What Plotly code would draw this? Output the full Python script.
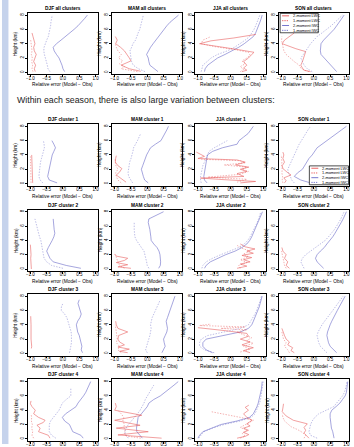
import plotly.graph_objects as go

W, HGT = 354, 447

PANEL_TITLES = ["DJF all clusters", "MAM all clusters", "JJA all clusters", "SON all clusters"] + [
    f"{s} cluster {c}" for c in range(1, 5) for s in ["DJF", "MAM", "JJA", "SON"]]

X_TICKS = [-1.0, -0.5, 0.0, 0.5, 1.0]
X_TICK_TEXT = ["\u22121.0", "\u22120.5", "0.0", "0.5", "1.0"]
Y_TICKS = [0, 2, 4, 6, 8]
LEGEND_LABELS = ["2-moment LWC", "1-moment LWC", "2-moment IWC", "1-moment IWC"]

# heights (km) for the ice profiles
H_ICE = [0.1, 0.5, 1, 1.5, 2, 2.5, 3, 3.5, 4, 4.5, 5, 5.5, 6, 6.5, 7, 7.5, 8]

ICE_SOLID = [
    [0.05, 0.0, -0.03, -0.08, -0.12, -0.2, -0.27, -0.3, -0.2, -0.06, 0.08, 0.2, 0.34, 0.46, 0.57, 0.66, 0.75],
    [0.33, 0.22, 0.08, 0.05, 0.03, -0.02, 0.03, 0.1, 0.18, 0.26, 0.34, 0.42, 0.5, 0.6, 0.7, 0.82, 0.96],
    [-0.8, -0.78, -0.7, -0.55, -0.4, -0.17, 0.05, 0.25, 0.42, 0.55, 0.7, 0.77, 0.82, 0.86, 0.9, 0.94, 0.97],
    [0.7, 0.62, 0.5, 0.4, 0.3, 0.22, 0.2, 0.2, 0.22, 0.3, 0.41, 0.52, 0.62, 0.7, 0.77, 0.85, 0.93],
    [-0.18, -0.42, -0.47, -0.45, -0.43, -0.41, -0.38, -0.35, -0.33, -0.28, -0.23, -0.28, -0.34, None, None, None, None],
    [0.03, -0.08, -0.12, -0.15, -0.18, -0.14, -0.1, -0.07, -0.02, 0.04, 0.1, 0.25, 0.42, 0.48, 0.55, 0.6, 0.65],
    [-0.72, -0.8, -0.82, -0.8, -0.78, -0.76, -0.74, -0.72, -0.71, -0.55, -0.25, 0.2, 0.26, 0.4, 0.54, 0.62, 0.7],
    [-0.1, -0.4, -0.6, -0.5, -0.35, -0.28, -0.22, -0.15, -0.05, 0.03, 0.1, 0.25, 0.41, 0.55, 0.72, 0.85, 1.0],
    [0.55, 0.1, -0.3, -0.4, -0.45, -0.5, -0.45, -0.38, -0.33, -0.28, -0.25, -0.27, -0.28, -0.3, -0.3, None, None],
    [0.35, 0.4, 0.41, 0.41, 0.39, 0.36, 0.3, 0.2, 0.12, 0.11, 0.1, 0.08, 0.055, 0.03, 0.05, 0.3, 0.5],
    [-0.8, -0.75, -0.62, -0.4, -0.15, 0.14, 0.35, 0.5, 0.59, 0.65, 0.7, 0.75, 0.8, 0.85, 0.9, 0.95, 0.98],
    [0.3, 0.2, 0.1, 0.05, 0.1, 0.2, 0.32, 0.4, 0.5, 0.58, 0.65, 0.72, 0.78, 0.84, 0.9, 0.95, 1.0],
    [0.6, 0.56, 0.58, 0.56, 0.52, 0.5, 0.45, 0.42, 0.41, 0.45, 0.52, 0.56, 0.52, 0.48, 0.46, 0.5, None],
    [0.45, 0.5, 0.55, 0.52, 0.5, 0.55, 0.6, 0.62, 0.6, 0.58, 0.62, 0.66, 0.7, 0.74, 0.78, 0.82, 0.85],
    [-0.55, -0.75, -0.85, -0.85, -0.75, -0.2, 0.3, 0.55, 0.65, 0.7, 0.75, 0.8, 0.85, 0.88, 0.91, 0.94, 0.97],
    [0.7, 0.6, 0.5, 0.45, 0.42, 0.4, 0.42, 0.45, 0.5, 0.55, 0.6, 0.66, 0.72, 0.78, 0.84, 0.9, 0.96],
    [0.62, 0.55, 0.3, 0.24, 0.2, 0.05, -0.02, 0.08, 0.25, 0.4, 0.46, 0.55, 0.63, 0.7, 0.75, 0.8, 0.85],
    [-0.15, -0.22, -0.32, -0.33, -0.32, -0.3, -0.28, -0.18, -0.08, 0.0, 0.05, 0.2, 0.4, 0.55, 0.68, 0.82, 0.95],
    [-1.0, -0.95, -0.85, -0.6, -0.3, 0.2, 0.58, 0.7, 0.76, 0.81, 0.85, 0.88, 0.91, 0.93, 0.95, 0.96, 0.97],
    [0.62, 0.61, 0.58, 0.54, 0.52, 0.51, 0.5, 0.5, 0.55, 0.68, 0.8, 0.88, 0.96, 1.0, 1.02, 1.03, 1.04],
]

ICE_DASHED = [
    [-0.4, -0.46, -0.48, -0.5, -0.54, -0.57, -0.59, -0.58, -0.55, -0.5, -0.45, -0.42, -0.4, -0.38, -0.37, -0.35, -0.33],
    [-0.07, -0.27, -0.43, -0.48, -0.5, -0.52, -0.53, -0.48, -0.44, -0.36, -0.33, -0.28, -0.23, -0.2, -0.17, -0.14, -0.12],
    [-0.9, -0.88, -0.85, -0.72, -0.6, -0.4, -0.1, 0.12, 0.3, 0.45, 0.58, 0.66, 0.72, 0.77, 0.82, 0.86, 0.9],
    [-0.05, -0.2, -0.3, -0.35, -0.4, -0.32, -0.25, -0.18, -0.1, 0.0, 0.1, 0.25, 0.4, 0.53, 0.65, 0.77, 0.88],
    [-0.62, -0.7, -0.74, -0.73, -0.71, -0.7, -0.69, -0.66, -0.63, -0.6, -0.57, -0.58, -0.6, None, None, None, None],
    [-0.45, -0.5, -0.57, -0.59, -0.58, -0.56, -0.54, -0.5, -0.46, -0.44, -0.42, -0.35, -0.3, -0.25, -0.2, None, None],
    [-0.9, -0.92, -0.92, -0.9, -0.88, -0.85, -0.8, -0.75, -0.7, -0.66, -0.5, -0.3, -0.1, None, None, None, None],
    [-0.6, -0.68, -0.72, -0.78, -0.8, -0.75, -0.7, -0.66, -0.6, -0.55, -0.5, -0.45, -0.38, -0.32, -0.25, -0.18, -0.1],
    [0.0, -0.35, -0.5, -0.58, -0.6, -0.62, -0.63, -0.65, -0.68, -0.72, -0.75, -0.78, -0.82, -0.85, -0.86, None, None],
    [0.05, 0.0, -0.02, -0.05, -0.08, -0.1, -0.18, -0.26, -0.33, -0.38, -0.4, -0.4, -0.4, -0.4, None, None, None],
    [-0.88, -0.85, -0.75, -0.55, -0.3, 0.0, 0.25, 0.42, 0.53, 0.6, 0.66, 0.72, 0.77, 0.82, 0.86, 0.9, 0.93],
    [-0.3, -0.35, -0.4, -0.35, -0.25, -0.1, 0.05, 0.2, 0.35, 0.45, 0.55, 0.63, 0.7, 0.77, 0.83, 0.88, 0.93],
    [0.2, 0.21, 0.24, 0.26, 0.27, 0.26, 0.25, 0.22, 0.18, 0.16, 0.12, 0.05, -0.05, -0.05, 0.0, None, None],
    [0.0, -0.05, -0.02, 0.02, 0.05, 0.08, 0.1, 0.12, 0.1, 0.12, 0.15, 0.2, 0.25, 0.3, 0.35, 0.4, None],
    [-0.5, -0.8, -0.95, -0.95, -0.9, -0.7, -0.2, 0.3, 0.55, 0.62, 0.68, 0.75, 0.8, 0.85, 0.88, 0.92, 0.95],
    [0.4, 0.3, 0.2, 0.15, 0.12, 0.1, 0.13, 0.18, 0.25, 0.33, 0.42, 0.5, 0.58, 0.66, 0.74, 0.82, 0.9],
    [-0.22, -0.35, -0.42, -0.43, -0.42, -0.38, -0.3, -0.2, -0.12, -0.07, -0.02, 0.1, 0.24, 0.24, 0.24, None, None],
    [-0.58, -0.65, -0.69, -0.65, -0.58, -0.48, -0.4, -0.3, -0.22, -0.15, -0.1, -0.06, 0.0, 0.07, 0.13, 0.2, None],
    [-0.98, -0.92, -0.82, -0.55, -0.2, 0.3, 0.63, 0.75, 0.8, 0.85, 0.89, 0.92, 0.94, 0.96, 0.98, 0.99, 1.0],
    [0.1, -0.1, -0.15, -0.13, -0.1, -0.05, 0.03, 0.15, 0.4, 0.61, 0.7, 0.8, 0.88, 0.94, 0.98, 1.0, 1.01],
]

LIQ_SOLID_H = [
    [0.1, 0.5, 1, 1.5, 2, 2.5, 3, 3.5, 4, 4.5, 5, 5.5],
    [0.15, 0.3, 0.5, 0.8, 1, 1.3, 1.6, 2, 2.5, 3, 3.5, 4, 4.5, 5],
    [0.1, 0.3, 0.6, 1, 1.5, 2, 2.5, 2.8, 3.2, 3.6, 4.0, 4.4, 4.8, 5.3],
    [0.1, 0.3, 0.6, 1, 1.5, 2, 2.5, 2.9, 3.3, 3.7, 4.0, 4.5, 5, 5.5],
    [0.1, 1, 2, 3, 4],
    [0.2, 0.5, 0.8, 1.2, 1.6, 2.1, 2.5, 3.0, 3.5, 3.9],
    [0.1, 0.3, 0.55, 0.77, 1.0, 1.4, 1.7, 2.0, 2.3, 2.6, 3.0, 3.3, 3.5, 3.8, 4.4],
    [0.1, 0.4, 0.8, 1.2, 1.6, 2.1, 2.5, 3, 3.5, 4, 4.4],
    [0.0, 0.5, 1, 1.5, 2, 2.5, 3, 3.4],
    [0.1, 0.3, 0.6, 0.9, 1.2, 1.5, 1.8, 2.1],
    [0.1, 0.4, 0.7, 1.0, 1.3, 1.6, 1.9, 2.2, 2.5, 2.8, 3.1, 3.5],
    [0.1, 0.5, 1, 1.5, 2, 2.5, 3],
    [0.7, 1, 2, 3, 4, 5.2],
    [0.1, 0.3, 0.6, 0.9, 1.2, 1.6, 2, 2.5, 3, 3.5, 4, 4.5],
    [0.1, 0.4, 0.8, 1.2, 1.6, 2.0, 2.4, 2.8, 3.2, 3.6],
    [0.1, 0.4, 0.8, 1.2, 1.6, 2, 2.5, 3, 3.5],
    [0.1, 0.5, 1, 1.5, 1.9, 2.3, 2.6, 3, 3.5, 4, 4.5, 4.9, 5.3],
    [0.1, 0.55, 1.0, 1.5, 1.9, 2.6, 3.3, 4.0, 4.5, 5.0],
    [0.1, 0.35, 0.6, 0.9, 1.2, 1.5, 1.8, 2.1, 2.6, 3.0, 3.5, 4.0, 4.4, 4.7],
    [0.1, 0.5, 0.8, 1.2, 1.6, 2.1, 2.6, 3.2, 3.8, 4.3, 4.9],
]
LIQ_SOLID_X = [
    [-0.85, -0.88, -0.84, -0.9, -0.86, -0.82, -0.88, -0.9, -0.86, -0.9, -0.92, -0.95],
    [-0.2, -0.4, -0.55, -0.7, -0.8, -0.65, -0.5, -0.55, -0.62, -0.7, -0.82, -0.97, -0.92, -0.98],
    [0.35, 0.5, 0.4, 0.5, 0.4, 0.55, 0.65, 0.72, 0.2, -0.4, -0.95, -0.6, 0.1, 0.78],
    [-0.1, -0.3, -0.35, -0.4, -0.35, -0.32, -0.28, -0.25, -0.55, -0.8, -0.97, -0.9, -0.75, -0.6],
    [-0.93, -0.94, -0.95, -0.95, -0.96],
    [-0.65, -0.75, -0.85, -0.95, -0.85, -0.78, -0.9, -0.98, -0.97, -0.95],
    [0.3, 0.77, -0.2, -0.92, 0.41, 0.2, 0.5, 0.3, 0.56, 0.15, 0.45, 0.2, -1.0, -0.8, -1.05],
    [-0.9, -0.85, -0.92, -0.7, -0.82, -0.95, -0.97, -0.9, -0.95, -0.92, -0.95],
    [-0.97, -0.98, -0.98, -0.99, -0.98, -0.99, -1.0, -1.0],
    [-0.5, -0.9, -0.6, -0.95, -0.7, -0.6, -0.95, -1.0],
    [0.2, 0.5, 0.3, 0.6, 0.4, 0.65, 0.35, 0.7, 0.5, 0.75, 0.45, 0.3],
    [-0.75, -0.85, -0.8, -0.9, -0.85, -0.95, -0.98],
    [-0.97, -0.96, -0.98, -0.97, -0.98, -0.99],
    [-0.6, -0.85, -0.55, -0.9, -0.7, -0.85, -0.9, -0.88, -0.6, -0.9, -0.95, -0.97],
    [0.6, 0.4, 0.7, 0.35, 0.6, 0.3, 0.55, 0.5, -0.2, -1.0],
    [-0.6, -0.7, -0.65, -0.8, -0.75, -0.85, -0.9, -0.95, -0.98],
    [-0.4, -0.45, -0.75, -0.7, -0.8, -0.6, -0.55, -0.75, -0.9, -0.85, -0.95, -1.0, -0.98],
    [0.44, -0.9, 0.03, -0.95, -0.22, -1.0, -0.17, -1.0, -0.95, -0.98],
    [0.2, 0.45, 0.56, 0.4, 0.55, 0.4, 0.6, 0.5, 0.66, 0.5, 0.4, 0.55, 0.45, 0.56],
    [-0.15, -0.25, -0.3, -0.25, -0.3, -0.2, -0.63, -0.85, -0.97, -0.95, -0.93],
]

LIQ_DASHED_H = [
    [0.1, 0.5, 1, 1.5, 2, 2.5, 3, 3.5, 4, 4.5],
    [0.1, 0.3, 0.5, 0.8, 1.2, 1.6, 2, 2.5, 3, 3.5, 4],
    [0.1, 0.4, 0.8, 1.2, 1.6, 2, 2.4, 2.8, 3.2, 3.6, 4.0, 4.5, 5.0],
    [0.1, 0.3, 0.6, 1, 1.5, 2, 2.5, 3, 3.5, 4, 4.5, 5],
    [0.1, 1, 2, 3, 3.8],
    [0.1, 0.5, 1, 1.5, 2, 2.5, 3, 3.5],
    [0.2, 0.6, 0.9, 1.3, 1.7, 2.0, 2.3, 2.6, 2.9, 3.2, 3.4],
    [0.1, 0.5, 1, 1.5, 2, 2.5, 3, 3.5, 4],
    [],
    [0.1, 0.5, 1, 1.5, 2],
    [0.1, 0.5, 0.9, 1.3, 1.7, 2.1, 2.5, 2.9, 3.3],
    [0.1, 0.5, 1, 1.5, 2, 2.5],
    [],
    [0.1, 0.5, 1, 1.5, 2, 3, 4],
    [0.2, 0.6, 1, 1.4, 1.8, 2.2, 2.6, 3.0, 3.3, 3.5, 3.7, 3.9, 4.1],
    [0.1, 0.5, 1, 1.5, 2, 2.5, 3],
    [0.1, 0.5, 1, 1.5, 2, 2.5, 3, 3.5],
    [0.1, 0.4, 0.8, 1.2, 1.6, 2, 2.5, 3, 3.5, 4],
    [0.1, 0.4, 0.8, 1.2, 1.6, 2.0, 2.3, 2.6, 3.0, 3.4, 3.8],
    [0.1, 0.5, 0.9, 1.3, 1.7, 2.1, 2.5, 3.0, 3.5],
]
LIQ_DASHED_X = [
    [-0.92, -0.95, -0.93, -0.96, -0.94, -0.97, -0.95, -0.97, -0.98, -0.99],
    [-0.3, -0.6, -0.8, -0.7, -0.85, -0.75, -0.88, -0.8, -0.9, -0.95, -0.98],
    [0.3, 0.4, 0.3, 0.45, 0.35, 0.5, 0.6, 0.55, 0.1, -0.5, -0.9, -0.85, -0.6],
    [-0.15, -0.3, -0.4, -0.45, -0.6, -0.72, -0.85, -0.92, -0.95, -0.97, -0.99, -0.98],
    [-0.98, -0.99, -0.99, -1.0, -1.0],
    [-0.8, -0.9, -0.95, -0.97, -0.9, -0.96, -0.98, -0.99],
    [0.2, 0.5, -0.7, 0.3, 0.55, 0.35, 0.5, -0.2, 0.45, 0.3, -0.9],
    [-0.95, -0.97, -0.96, -0.98, -0.97, -0.99, -0.98, -1.0, -1.0],
    [],
    [-0.7, -0.85, -0.9, -0.95, -0.98],
    [0.3, 0.25, 0.5, 0.3, 0.55, 0.4, 0.6, 0.35, 0.2],
    [-0.85, -0.9, -0.92, -0.95, -0.97, -0.99],
    [],
    [-0.8, -0.9, -0.85, -0.95, -0.92, -0.96, -0.98],
    [0.3, 0.6, 0.4, 0.7, 0.5, 0.65, 0.4, 0.2, 0.5, -0.3, 0.45, -0.95, -0.6],
    [-0.75, -0.8, -0.9, -0.85, -0.93, -0.96, -0.98],
    [-0.9, -0.95, -0.93, -0.96, -0.94, -0.97, -0.96, -0.98],
    [-0.2, -0.65, -0.7, -0.68, -0.72, -0.7, -0.75, -0.72, -0.8, -0.9],
    [0.3, 0.45, 0.35, 0.5, 0.3, 0.45, 0.55, 0.7, 0.3, -0.1, -0.6],
    [-0.3, -0.25, -0.35, -0.5, -0.7, -0.8, -0.9, -0.95, -0.97],
]

RED = "rgb(232,80,80)"
BLUE = "rgb(105,105,200)"
DASH = "1.4px,1.4px"
LW = 0.6
PANEL_LEFT = [26, 111, 195, 279]
PANEL_TOP = [13, 125, 211, 296, 382]
PW, PH = 71, 62
XR = [-1.08, 1.08]
YR = [-0.3, 8.3]
FONT = "Liberation Sans, Arial, sans-serif"


def px(x):
    return x / W


def py(y):
    return 1 - y / HGT


fig = go.Figure()
layout = dict(width=W, height=HGT, margin=dict(l=0, r=0, t=0, b=0),
              paper_bgcolor="white", plot_bgcolor="white", showlegend=False)
annotations = []
shapes = [dict(type="rect", xref="paper", yref="paper", x0=0, x1=px(6.5), y0=0, y1=1,
               fillcolor="#c6d3ec", line=dict(width=0), layer="below")]

for i, title in enumerate(PANEL_TITLES):
    row = 0 if i < 4 else 1 + (i - 4) // 4
    col = i % 4
    L, T = PANEL_LEFT[col], PANEL_TOP[row]
    n = "" if i == 0 else str(i + 1)
    xa, ya = "x" + n, "y" + n
    axstyle = dict(showline=True, mirror=True, linecolor="black", linewidth=0.8,
                   ticks="outside", ticklen=2, tickwidth=0.6, tickcolor="black",
                   showgrid=False, zeroline=False, fixedrange=True,
                   tickfont=dict(size=4.5, family=FONT, color="black"))
    layout["xaxis" + n] = dict(axstyle, domain=[px(L), px(L + PW)], range=XR, anchor=ya,
                               tickvals=X_TICKS, ticktext=X_TICK_TEXT, ticklabelstandoff=-3)
    layout["yaxis" + n] = dict(axstyle, domain=[py(T + PH), py(T)], range=YR, anchor=xa,
                               tickvals=Y_TICKS, tickangle=-90, ticklabelstandoff=-1)
    # profiles
    fig.add_trace(go.Scatter(x=ICE_SOLID[i], y=H_ICE, mode="lines", xaxis=xa, yaxis=ya,
                             line=dict(color=BLUE, width=LW), connectgaps=False))
    fig.add_trace(go.Scatter(x=ICE_DASHED[i], y=H_ICE, mode="lines", xaxis=xa, yaxis=ya,
                             line=dict(color=BLUE, width=LW, dash=DASH), opacity=0.75))
    fig.add_trace(go.Scatter(x=LIQ_SOLID_X[i], y=LIQ_SOLID_H[i], mode="lines", xaxis=xa, yaxis=ya,
                             line=dict(color=RED, width=LW), opacity=0.9))
    if LIQ_DASHED_X[i]:
        fig.add_trace(go.Scatter(x=LIQ_DASHED_X[i], y=LIQ_DASHED_H[i], mode="lines", xaxis=xa, yaxis=ya,
                                 line=dict(color=RED, width=LW, dash=DASH), opacity=0.75))
    # texts
    annotations.append(dict(text="<b>" + title + "</b>", x=px(L + PW / 2), y=py(T - 4.5), xref="paper",
                            yref="paper", showarrow=False, font=dict(size=4.8, family=FONT, color="black"),
                            xanchor="center", yanchor="middle"))
    if T + PH + 13 < HGT:
        annotations.append(dict(text="Relative error (Model \u2212 Obs)", x=px(L + PW / 2),
                                y=py(T + PH + 10.5), xref="paper", yref="paper", showarrow=False,
                                font=dict(size=4.8, family=FONT, color="black"),
                                xanchor="center", yanchor="middle"))
    annotations.append(dict(text="Height (km)", x=px(L - 12), y=py(T + PH / 2), xref="paper", yref="paper",
                            showarrow=False, textangle=-90, font=dict(size=4.8, family=FONT, color="black"),
                            xanchor="center", yanchor="middle"))


def add_legend(x0, y0, x1, y1):
    shapes.append(dict(type="rect", xref="paper", yref="paper", x0=px(x0), x1=px(x1), y0=py(y1), y1=py(y0),
                       line=dict(color="black", width=0.7), fillcolor="white"))
    step = (y1 - y0) / 4
    for k, lab in enumerate(LEGEND_LABELS):
        yy = y0 + step * (k + 0.5)
        col = RED if k < 2 else BLUE
        dash = "solid" if k % 2 == 0 else "1.3px,1px"
        shapes.append(dict(type="line", xref="paper", yref="paper", x0=px(x0 + 2), x1=px(x0 + 9),
                           y0=py(yy), y1=py(yy), line=dict(color=col, width=0.9, dash=dash)))
        annotations.append(dict(text=lab, x=px(x0 + 10.5), y=py(yy), xref="paper", yref="paper",
                                showarrow=False, xanchor="left", yanchor="middle",
                                font=dict(size=3.9, family=FONT, color="black")))


add_legend(280.5, 13.5, 319, 33)
add_legend(310, 167, 349.5, 186)

annotations.append(dict(text="Within each season, there is also large variation between clusters:",
                        x=px(13), y=py(101), xref="paper", yref="paper", showarrow=False,
                        xanchor="left", yanchor="middle",
                        font=dict(size=8.8, family=FONT, color="#222222")))

layout["annotations"] = annotations
layout["shapes"] = shapes
fig.update_layout(**layout)
fig.write_html("out.html")
